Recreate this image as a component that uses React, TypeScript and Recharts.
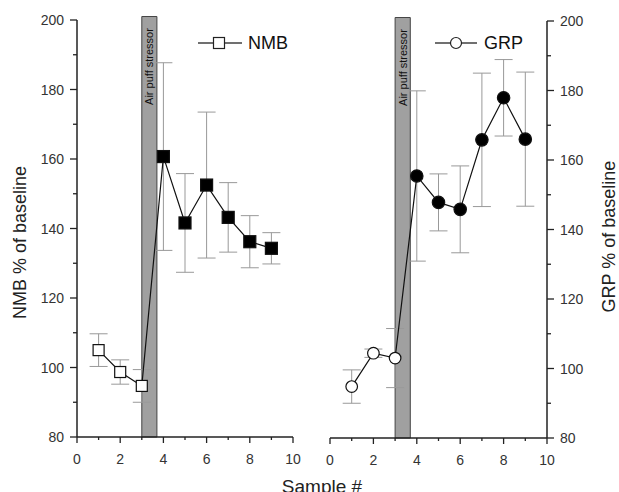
import React from 'react';
import { ComposedChart, Line, XAxis, YAxis, ErrorBar, ReferenceArea, Legend } from 'recharts';

const samples = [1, 2, 3, 4, 5, 6, 7, 8, 9];
const nmbMean = [105, 98.7, 94.7, 160.7, 141.6, 152.5, 143.2, 136.2, 134.3];
const nmbErr = [4.7, 3.5, 4.7, 27, 14.2, 21, 10, 7.5, 4.5];
const grpMean = [94.8, 104.4, 103, 155.4, 147.8, 145.8, 165.8, 177.9, 166];
const grpErr = [4.8, 1.2, 8.5, 24.5, 8.2, 12.5, 19.2, 11, 19.3];
const baselineCount = 3; // samples before the stressor drawn as open symbols
const stressorStart = 3;
const stressorEnd = 3.7;
const bandTop = 201;
const xTicks = [0, 1, 2, 3, 4, 5, 6, 7, 8, 9, 10];
const yTicks = [80, 90, 100, 110, 120, 130, 140, 150, 160, 170, 180, 190, 200];

const nmbData = samples.map((s, i) => ({ sample: s, value: nmbMean[i], err: nmbErr[i] }));
const grpData = samples.map((s, i) => ({ sample: s, value: grpMean[i], err: grpErr[i] }));

const FONT = '"Liberation Sans", Arial, Helvetica, sans-serif';
const AXIS = '#222';

const XTick = (props: any) => {
  const { x, y, payload } = props;
  const major = payload.value % 2 === 0;
  return (
    <g>
      <line x1={x} y1={y} x2={x} y2={y + (major ? 6 : 3)} stroke={AXIS} strokeWidth={1.3} />
      {major && (
        <text x={x} y={y + 22} dy="0.36em" textAnchor="middle" fontSize={14} fill="#333" fontFamily={FONT}>
          {payload.value}
        </text>
      )}
    </g>
  );
};

const YTickLeft = (props: any) => {
  const { x, y, payload } = props;
  const major = payload.value % 20 === 0;
  return (
    <g>
      <line x1={x - (major ? 7 : 4)} y1={y} x2={x} y2={y} stroke={AXIS} strokeWidth={1.3} />
      {major && (
        <text x={x - 13} y={y} dy="0.36em" textAnchor="end" fontSize={14} fill="#333" fontFamily={FONT}>
          {payload.value}
        </text>
      )}
    </g>
  );
};

const YTickRight = (props: any) => {
  const { x, y, payload } = props;
  const major = payload.value % 20 === 0;
  return (
    <g>
      <line x1={x} y1={y} x2={x + (major ? 7 : 4)} y2={y} stroke={AXIS} strokeWidth={1.3} />
      {major && (
        <text x={x + 13} y={y} dy="0.36em" textAnchor="start" fontSize={14} fill="#333" fontFamily={FONT}>
          {payload.value}
        </text>
      )}
    </g>
  );
};

const BandLabel = (props: any) => {
  const vb = props.viewBox || {};
  const cx = vb.x + vb.width / 2;
  const cy = vb.y + 50;
  return (
    <text
      x={cx}
      y={cy}
      transform={`rotate(-90 ${cx} ${cy})`}
      textAnchor="middle"
      dy="0.35em"
      fontSize={11}
      fill="#111"
      fontFamily={FONT}
    >
      Air puff stressor
    </text>
  );
};

const squareDot = (props: any) => {
  const { cx, cy, index } = props;
  const open = index < baselineCount;
  const s = open ? 11 : 12;
  return (
    <rect
      key={`sq-${index}`}
      x={cx - s / 2}
      y={cy - s / 2}
      width={s}
      height={s}
      fill={open ? '#fff' : '#000'}
      stroke="#111"
      strokeWidth={1.2}
    />
  );
};

const circleDot = (props: any) => {
  const { cx, cy, index } = props;
  const open = index < baselineCount;
  return (
    <circle
      key={`ci-${index}`}
      cx={cx}
      cy={cy}
      r={open ? 5.8 : 6.2}
      fill={open ? '#fff' : '#000'}
      stroke="#111"
      strokeWidth={1.2}
    />
  );
};

const LegendNMB = () => (
  <svg width={110} height={24} style={{ display: 'block' }}>
    <line x1={3} y1={12} x2={18} y2={12} stroke="#222" strokeWidth={1.3} />
    <rect x={18.5} y={6.5} width={11} height={11} fill="#fff" stroke="#222" strokeWidth={1.2} />
    <line x1={30} y1={12} x2={47} y2={12} stroke="#222" strokeWidth={1.3} />
    <text x={53} y={12} dy="0.36em" fontSize={18} fill="#111" fontFamily={FONT}>NMB</text>
  </svg>
);

const LegendGRP = () => (
  <svg width={110} height={24} style={{ display: 'block' }}>
    <line x1={3} y1={12} x2={18.5} y2={12} stroke="#222" strokeWidth={1.3} />
    <circle cx={24} cy={12} r={5.5} fill="#fff" stroke="#222" strokeWidth={1.2} />
    <line x1={29.5} y1={12} x2={45} y2={12} stroke="#222" strokeWidth={1.3} />
    <text x={52} y={12} dy="0.36em" fontSize={18} fill="#111" fontFamily={FONT}>GRP</text>
  </svg>
);

const YTitleLeft = (props: any) => {
  const vb = props.viewBox || {};
  const cx = vb.x + 20;
  const cy = vb.y + vb.height / 2 + 14;
  return (
    <text x={cx} y={cy} transform={`rotate(-90 ${cx} ${cy})`} textAnchor="middle" dy="0.36em" fontSize={18} fill="#222" fontFamily={FONT}>
      NMB % of baseline
    </text>
  );
};

const YTitleRight = (props: any) => {
  const vb = props.viewBox || {};
  const cx = vb.x + 62;
  const cy = vb.y + vb.height / 2 + 7;
  return (
    <text x={cx} y={cy} transform={`rotate(-90 ${cx} ${cy})`} textAnchor="middle" dy="0.36em" fontSize={18} fill="#222" fontFamily={FONT}>
      GRP % of baseline
    </text>
  );
};

export default function App() {
  return (
    <div style={{ position: 'absolute', left: 0, top: 0, width: 619, height: 492, background: '#fff', overflow: 'hidden' }}>
      <div style={{ position: 'absolute', left: 0, top: 0 }}>
        <ComposedChart width={310} height={492} data={nmbData} margin={{ top: 20, right: 17, bottom: 25, left: 0 }}>
          <ReferenceArea
            x1={stressorStart}
            x2={stressorEnd}
            y1={80}
            y2={bandTop}
            ifOverflow="visible"
            fill="#a0a0a0"
            fillOpacity={1}
            stroke="#444"
            strokeWidth={1}
            label={<BandLabel />}
          />
          <XAxis
            type="number"
            dataKey="sample"
            domain={[0, 10]}
            ticks={xTicks}
            interval={0}
            height={30}
            tickSize={0}
            tickMargin={0}
            tick={<XTick />}
            tickLine={false}
            axisLine={{ stroke: AXIS, strokeWidth: 1.5 }}
          />
          <YAxis
            type="number"
            domain={[80, 200]}
            ticks={yTicks}
            interval={0}
            width={77}
            tickSize={0}
            tickMargin={0}
            tick={<YTickLeft />}
            tickLine={false}
            axisLine={{ stroke: AXIS, strokeWidth: 1.5 }}
            label={<YTitleLeft />}
          />
          <Legend
            layout="vertical"
            align="center"
            verticalAlign="middle"
            content={() => <LegendNMB />}
            wrapperStyle={{ position: 'absolute', left: 195, top: 31, width: 110, height: 24 }}
          />
          <Line
            dataKey="value"
            stroke="#111"
            strokeWidth={1.2}
            dot={squareDot}
            activeDot={false}
            isAnimationActive={false}
          >
            <ErrorBar dataKey="err" width={9} stroke="#999" strokeWidth={1} direction="y" />
          </Line>
        </ComposedChart>
      </div>
      <div style={{ position: 'absolute', left: 310, top: 0 }}>
        <ComposedChart width={309} height={492} data={grpData} margin={{ top: 21, right: 12, bottom: 24, left: 20 }}>
          <ReferenceArea
            x1={stressorStart}
            x2={stressorEnd}
            y1={80}
            y2={bandTop}
            ifOverflow="visible"
            fill="#a0a0a0"
            fillOpacity={1}
            stroke="#444"
            strokeWidth={1}
            label={<BandLabel />}
          />
          <XAxis
            type="number"
            dataKey="sample"
            domain={[0, 10]}
            ticks={xTicks}
            interval={0}
            height={30}
            tickSize={0}
            tickMargin={0}
            tick={<XTick />}
            tickLine={false}
            axisLine={{ stroke: AXIS, strokeWidth: 1.5 }}
          />
          <YAxis
            type="number"
            orientation="right"
            domain={[80, 200]}
            ticks={yTicks}
            interval={0}
            width={60}
            tickSize={0}
            tickMargin={0}
            tick={<YTickRight />}
            tickLine={false}
            axisLine={{ stroke: AXIS, strokeWidth: 1.5 }}
            label={<YTitleRight />}
          />
          <Legend
            layout="vertical"
            align="center"
            verticalAlign="middle"
            content={() => <LegendGRP />}
            wrapperStyle={{ position: 'absolute', left: 122, top: 31, width: 110, height: 24 }}
          />
          <Line
            dataKey="value"
            stroke="#111"
            strokeWidth={1.2}
            dot={circleDot}
            activeDot={false}
            isAnimationActive={false}
          >
            <ErrorBar dataKey="err" width={9} stroke="#999" strokeWidth={1} direction="y" />
          </Line>
        </ComposedChart>
      </div>
      <div
        style={{
          position: 'absolute',
          left: 222,
          width: 200,
          top: 475,
          textAlign: 'center',
          fontFamily: FONT,
          fontSize: 19,
          lineHeight: '24px',
          color: '#222',
        }}
      >
        Sample #
      </div>
    </div>
  );
}
